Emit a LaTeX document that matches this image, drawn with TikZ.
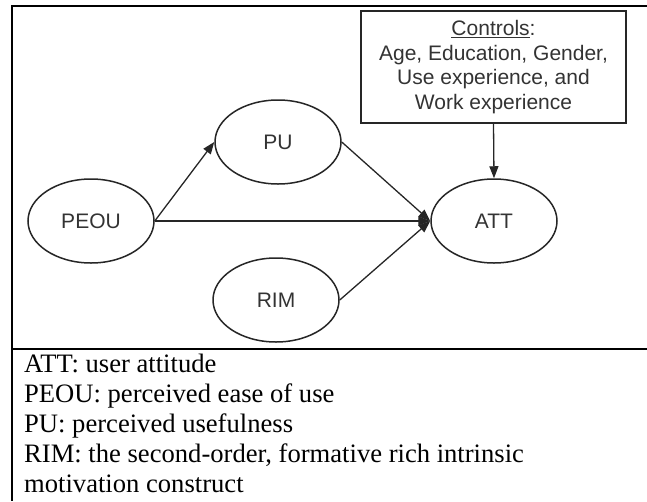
\documentclass[tikz,border=0pt]{standalone}
\usepackage{fontspec}
\setmainfont{Liberation Serif}
\newfontfamily\arialfont{Liberation Sans}
\usetikzlibrary{shapes.geometric,arrows.meta}
\definecolor{linegray}{HTML}{262626}
\definecolor{textgray}{HTML}{333333}

\begin{document}
\begin{tikzpicture}[x=1pt,y=-1pt,
  frame/.style={line width=2.6pt,black},
  construct/.style={ellipse,draw=linegray,line width=1.5pt,
    minimum width=126pt,minimum height=84pt,inner sep=0pt,
    font=\arialfont\fontsize{21}{25}\selectfont,text=textgray},
  ctrlbox/.style={rectangle,draw=linegray,line width=1.5pt,
    minimum width=265pt,minimum height=112pt,inner sep=0pt,align=center,
    font=\arialfont\fontsize{21}{24.5}\selectfont,text=textgray},
  link/.style={draw=linegray,line width=1.3pt,
    -{Triangle[length=12pt,width=9pt]}},
  legend/.style={anchor=base west,inner sep=0pt,
    font=\fontsize{26.6}{30}\selectfont}
]
\useasboundingbox (0,0) rectangle (647,501);

% table frame around the model and its legend
\draw[frame] (647,6) -- (12,6) -- (12,501);
\draw[frame] (12,349) -- (647,349);

% constructs
\node[construct] (peou) at (91,221) {PEOU};
\node[construct] (pu)   at (278,142) {PU};
\node[construct] (att)  at (494,221) {ATT};
\node[construct] (rim)  at (276,300) {RIM};

% control variables
\node[ctrlbox] (ctrl) at (493.5,67)
  {\underline{Controls}:\\Age, Education, Gender,\\Use experience, and\\Work experience};

% paths
\draw[link] (peou.east) -- (pu.west);
\draw[link] (peou.east) -- (att.west);
\draw[link] (pu.east) -- (att.west);
\draw[link] (rim.east) -- (att.west);
\draw[link] (ctrl.south) -- (att.north);

% legend
\node[legend] (l1) at (24,372) {ATT: user attitude};
\node[legend] (l2) at (24,402) {PEOU: perceived ease of use};
\node[legend] (l3) at (24,432) {PU: perceived usefulness};
\node[legend] (l4) at (24,462) {RIM: the second-order, formative rich intrinsic};
\node[legend] (l5) at (24,492) {motivation construct};
\end{tikzpicture}
\end{document}
